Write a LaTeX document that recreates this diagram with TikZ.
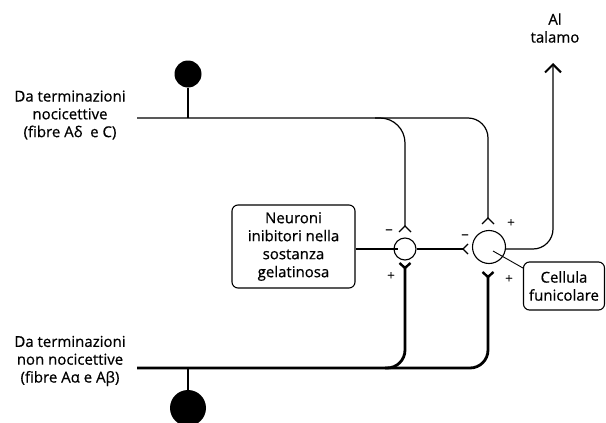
\documentclass[tikz,border=0pt]{standalone}
\usepackage{fontspec}
\setmainfont{Open Sans}[FakeBold=0.6]
\usetikzlibrary{arrows.meta}
\begin{document}
\begin{tikzpicture}[x=1pt,y=-1pt,
  fibre/.style={line width=1.2pt},
  thickfibre/.style={line width=2.8pt},
  label/.style={font=\fontsize{15}{17.8}\selectfont, align=center, inner sep=0pt},
  sign/.style={font=\fontsize{13}{13}\selectfont, inner sep=0pt},
  box/.style={draw, line width=1.1pt, rounded corners=6pt, align=center,
    font=\fontsize{15}{18}\selectfont, inner sep=0pt},
  cell/.style={circle, draw, line width=1.1pt, inner sep=0pt},
  soma/.style={circle, fill=black, inner sep=0pt}]
\useasboundingbox (0,0) rectangle (606,423);

% labels
\node[label] (nocic) at (70,115) {Da terminazioni\\nocicettive\\(fibre Aδ\ \ e C)};
\node[label] (nonnocic) at (70,361) {Da terminazioni\\non nocicettive\\(fibre Aα\ e Aβ)};
\node[label] (talamo) at (555,28) {Al\\talamo};

% boxes
\node[box, minimum width=123pt, minimum height=83pt] (inib) at (293.5,246.5)
  {Neuroni\\inibitori nella\\sostanza\\gelatinosa};
\node[box, minimum width=81pt, minimum height=48pt] (funic) at (564,286)
  {Cellula\\funicolare};

% cells
\node[cell, minimum size=22pt] (c1) at (405,249) {};
\node[cell, minimum size=33pt] (c2) at (489,247) {};
\node[soma, minimum size=27pt] (s1) at (188,74) {};
\node[soma, minimum size=36pt] (s2) at (188,408) {};

% synaptic points
\coordinate (t1) at (405,226);
\coordinate (t2) at (488,218);
\coordinate (b1) at (405,268);
\coordinate (b2) at (488,277);
\coordinate (i2) at (463,249);
\coordinate (tip) at (553,63);

% nociceptive fibre
\draw[fibre] (s1) -- (188,118);
\draw[fibre, rounded corners=20pt] (137,118) -- (488,118) -- (t2);
\draw[fibre, rounded corners=25pt] (375,118) -- (405,118) -- (t1);

% non-nociceptive fibre
\draw[line width=2pt] (s2) -- (188,368);
\draw[thickfibre, rounded corners=18pt] (137,368) -- (488,368) -- (b2);
\draw[thickfibre, rounded corners=18pt] (385,368) -- (405,368) -- (b1);

% inhibitory connections
\draw[fibre] (inib.east |- c1) -- ([xshift=5pt]c1.west);
\draw[fibre] (c1.east) -- (i2);

% projection to thalamus
\draw[fibre, rounded corners=20pt, -{Straight Barb[length=8pt,width=16pt,line width=2pt]}]
  (c2.east |- 0,249) -- (553,249) -- (tip);
\draw[line width=0.9pt] (493,251) -- (funic.west |- 0,268);

% synapse terminals
\draw[fibre] ([shift={(-6,6)}]t1) -- (t1) -- ([shift={(6,6)}]t1);
\draw[fibre] ([shift={(-6,6)}]t2) -- (t2) -- ([shift={(6,6)}]t2);
\draw[fibre] ([shift={(5,-5)}]i2) -- (i2) -- ([shift={(5,5)}]i2);
\draw[line width=2.4pt] ([shift={(-5.5,-5)}]b1) -- (b1) -- ([shift={(5.5,-5)}]b1);
\draw[line width=2.4pt] ([shift={(-5.5,-5)}]b2) -- (b2) -- ([shift={(5.5,-5)}]b2);

% signs
\node[sign] (m1) at (389,232) {−};
\node[sign] (p1) at (391,276) {+};
\node[sign] (m2) at (465,237) {−};
\node[sign] (p2) at (511,223) {+};
\node[sign] (p3) at (509,279) {+};
\end{tikzpicture}
\end{document}
